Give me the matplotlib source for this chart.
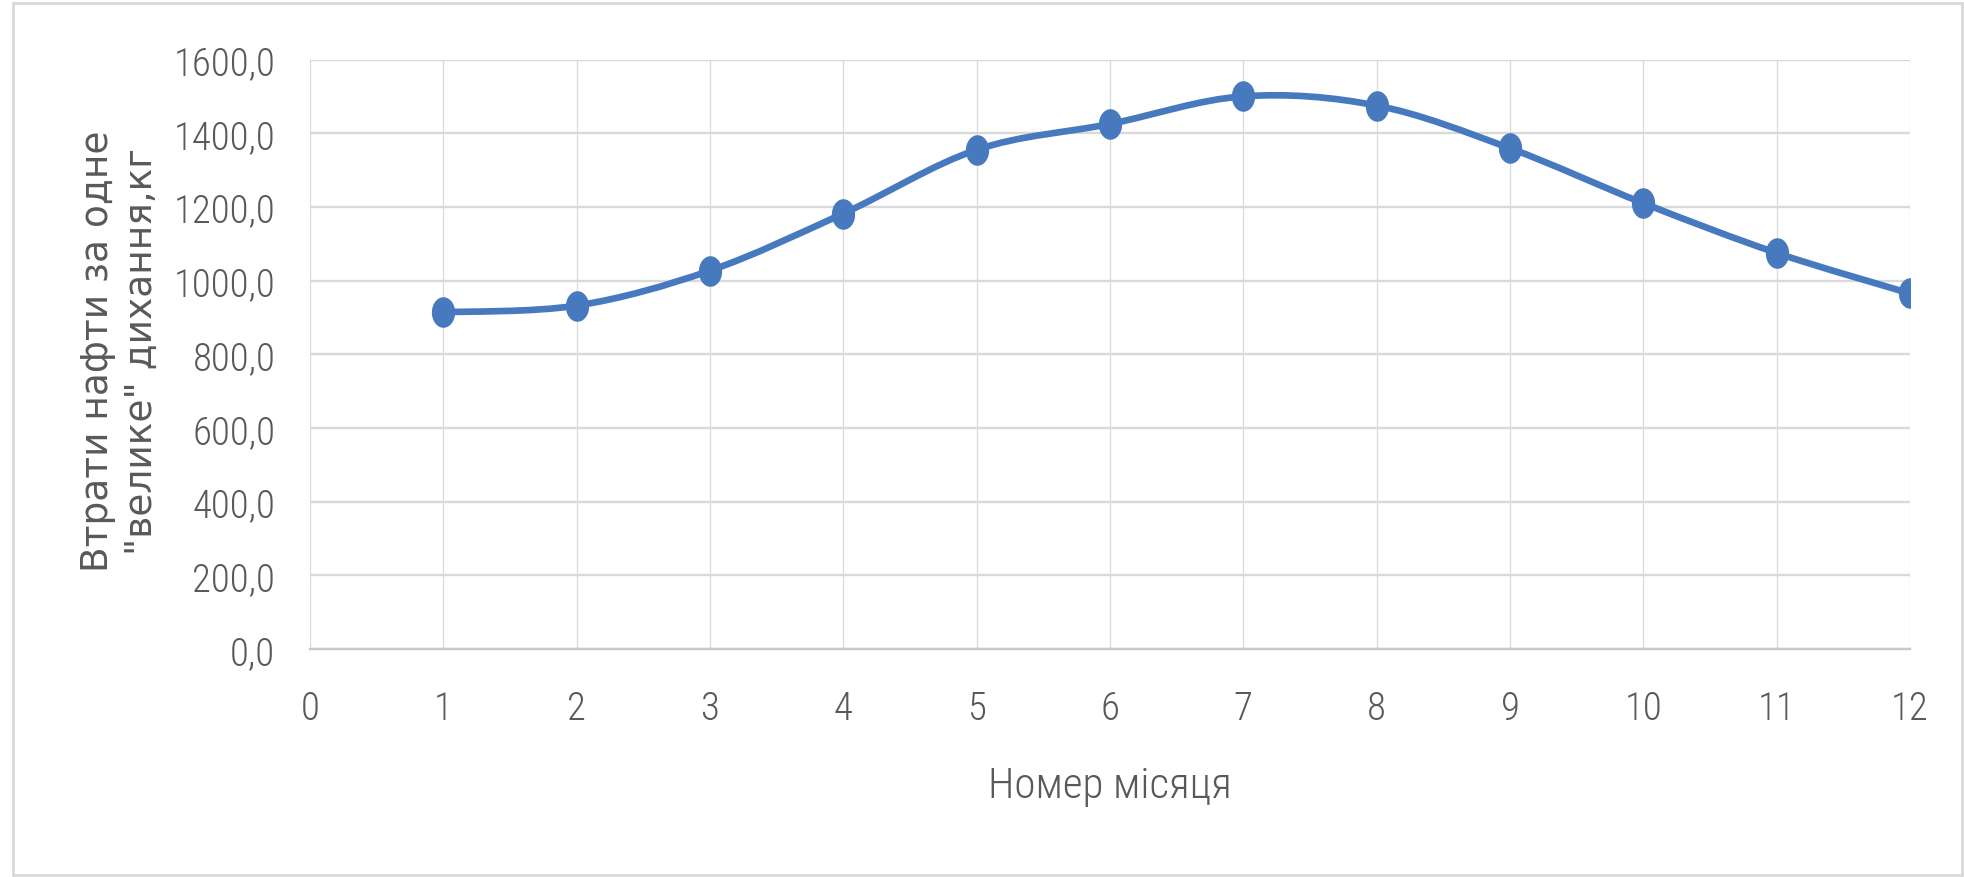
import numpy as np
import matplotlib
matplotlib.use('Agg')
import matplotlib.pyplot as plt
from matplotlib.path import Path
from matplotlib.patches import PathPatch, Rectangle
from matplotlib.ticker import FuncFormatter, MultipleLocator

# втрати від "великого" дихання по місяцях
months = [1, 2, 3, 4, 5, 6, 7, 8, 9, 10, 11, 12]
losses = [914, 932, 1027, 1182, 1355, 1425, 1500, 1475, 1359, 1210, 1075, 965]

x_label = 'Номер місяця'
y_label = 'Втрати нафти за одне\n"велике" дихання,кг'

blue = '#4779bf'
text_col = '#595959'
grid_col = '#d9d9d9'
narrow = dict(family=['Roboto Condensed', 'Open Sans', 'DejaVu Sans'],
              fontstretch='condensed', fontweight=300)


def smooth_path(xs, ys):
    # згладжена лінія як в Excel: кубічні сегменти Безьє через усі точки
    pts = np.column_stack([xs, ys]).astype(float)
    n = len(pts)
    verts = [pts[0]]
    codes = [Path.MOVETO]
    for i in range(n - 1):
        p0 = pts[i - 1] if i > 0 else pts[i]
        p1 = pts[i]
        p2 = pts[i + 1]
        p3 = pts[i + 2] if i + 2 < n else pts[i + 1]
        c1 = p1 + (p2 - p0) / 6.0
        c2 = p2 - (p3 - p1) / 6.0
        verts += [c1, c2, p2]
        codes += [Path.CURVE4] * 3
    return Path(verts, codes)


# еліптичний маркер (трохи витягнутий по вертикалі)
t = np.linspace(0, 2 * np.pi, 60)
ellipse = Path(np.column_stack([0.75 * np.cos(t), np.sin(t)]), closed=True)

fig = plt.figure(figsize=(19.64, 8.78), dpi=100)
fig.patch.set_facecolor('white')
fig.add_artist(Rectangle((13 / 1964, 2 / 878), 1949 / 1964, 872 / 878,
                         transform=fig.transFigure, fill=False,
                         edgecolor='#d9d9d9', lw=2))

ax = fig.add_axes([310 / 1964, 1 - 650 / 878, 1600 / 1964, 589.5 / 878])

ax.add_patch(PathPatch(smooth_path(months, losses), fill=False,
                       edgecolor=blue, lw=4.8, capstyle='round', zorder=3))
ax.plot(months, losses, linestyle='none', marker=ellipse, markersize=21,
        color=blue, zorder=4)

ax.set_xlim(0, 12)
ax.set_ylim(0, 1600)
ax.xaxis.set_major_locator(MultipleLocator(1))
ax.yaxis.set_major_locator(MultipleLocator(200))
ax.yaxis.set_major_formatter(FuncFormatter(lambda v, p: f'{v:.1f}'.replace('.', ',')))

ax.grid(axis='y', color=grid_col, lw=1.7)
ax.grid(axis='x', color=grid_col, lw=0.9)
ax.set_axisbelow(True)
for s in ['top', 'right', 'left']:
    ax.spines[s].set_visible(False)
ax.spines['bottom'].set_color('#c8c8c8')
ax.spines['bottom'].set_linewidth(1.7)

ax.tick_params(axis='both', length=0, colors=text_col)
ax.tick_params(axis='x', pad=29)
ax.tick_params(axis='y', pad=25)
for lab in ax.get_xticklabels() + ax.get_yticklabels():
    lab.set(fontsize=28, **narrow)

ax.set_xlabel(x_label, fontsize=31, color=text_col, **narrow)
ax.xaxis.set_label_coords(0.5, (650 - 766) / 589.5)
ax.set_ylabel(y_label, family=['DejaVu Sans'], fontsize=27, color=text_col,
              linespacing=1.3)
ax.yaxis.set_label_coords((160 - 310) / 1600, 0.507)

fig.savefig('out.png', dpi=100, facecolor='white')
